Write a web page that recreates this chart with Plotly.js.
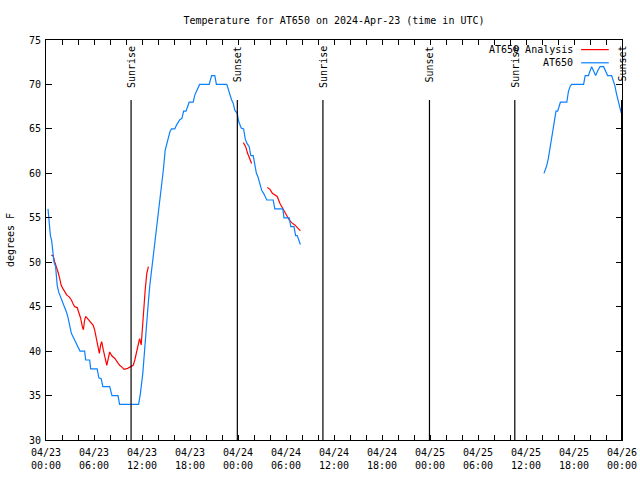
<!DOCTYPE html>
<html>
<head>
<meta charset="utf-8">
<script src="https://cdn.plot.ly/plotly-3.0.1.min.js"></script>
<style>
html,body{margin:0;padding:0;background:#fff;}
#chart{width:640px;height:480px;}
#chart svg .xtick, #chart svg .ytick, #chart svg .xlines-above, #chart svg .ylines-above{shape-rendering:crispEdges;}
</style>
</head>
<body>
<div id="chart"></div>
<script>
// Hours after 2024-04-23 00:00 UTC, and temperature (deg F)
const obsHours = [0.25,0.4,0.55,0.7,0.875,1.0,1.2,1.4,1.6,1.83,2.1,2.3,2.55,2.75,2.96,3.17,3.5,3.7,3.9,4.25,4.83,4.96,5.46,5.58,6.4,6.6,6.9,7.1,7.96,8.25,9.0,9.2,11.58,11.8,12.1,12.3,12.5,12.75,12.96,13.2,13.4,13.6,13.8,14.04,14.25,14.46,14.67,14.9,15.1,15.3,15.5,15.7,16.1,16.3,16.7,17.0,17.2,17.5,17.8,17.9,18.4,18.6,18.8,19.2,20.4,20.7,21.1,21.3,22.6,22.8,23.0,23.2,23.4,23.6,23.9,24.1,24.4,24.7,24.9,25.1,25.4,25.6,25.9,26.1,26.3,26.5,26.75,26.96,27.2,27.4,27.6,28.4,28.6,29.6,29.75,30.4,30.6,31.0,31.2,31.4,31.6,31.8,
  null,
  62.25,62.6,62.8,63.0,63.2,63.3,63.5,63.6,63.75,63.96,64.2,64.3,65.1,65.3,65.5,65.7,67.2,67.4,67.8,68.2,68.45,68.7,69.0,69.25,69.7,70.2,70.7,70.9,71.1,71.3,71.5,71.75,71.9];
const obsTemps = [56,54,53,52.5,51.3,50,49.5,47.4,46.6,46.1,45.3,45,44.4,43.8,42.7,42,41.4,41,40.8,40,40,39,39,38,38,37,36.9,36,36,35,35,34,34,35.25,37.5,40.1,42,45,47.25,49.1,50.25,52.5,53.6,55.5,57,58.5,60.4,62.6,63.4,64.1,64.7,65,65,65.4,66,66.2,67,67,67.7,68,68,68.8,69.2,70,70,71,71,70,70,69.4,69,68.25,67.9,67.1,66.75,65.8,65.1,65,63.9,63.4,63,62,62,61.1,60,59.6,58.9,58.1,57.75,57.4,57,57,56,56,55,55,54,54,53,53,52.5,52,
  null,
  60,60.9,61.7,62.8,63.75,64.3,65.25,66.2,67,67,67.7,68,68,69.2,69.75,70,70,71,71,72,71.5,71,71.6,72,72,71,71,70.5,69.9,69,68.25,67.1,66.8];

const anaHours = [0.67,0.9,1.08,1.3,1.5,1.7,1.9,2.1,2.33,2.6,2.9,3.17,3.4,3.58,3.9,4.1,4.33,4.54,4.67,4.83,4.96,5.25,5.58,5.9,6.08,6.3,6.5,6.67,6.83,6.96,7.17,7.33,7.6,7.96,8.25,8.58,8.9,9.2,9.5,9.75,10.2,10.5,10.9,11.1,11.3,11.5,11.7,11.8,11.9,12.04,12.2,12.4,12.6,12.8,
  null,
  24.67,24.96,25.2,25.4,25.6,25.7,
  null,
  27.67,28.0,28.3,28.6,28.9,29.25,29.6,29.9,30.2,30.4,30.7,31.1,31.5,31.8];
const anaTemps = [50.8,50.7,50.06,49.5,48.9,48.2,47.4,47.06,46.7,46.3,46.1,45.75,45.3,45,44.9,44.4,43.7,42.75,42.4,43.5,43.9,43.6,43.2,42.9,42.4,41.25,40.3,39.75,40.7,41.06,40.1,39.4,38.4,39.9,39.45,39.2,38.8,38.4,38.2,37.95,38.06,38.25,38.4,39,39.75,40.7,41.4,41.06,40.7,42.4,44.6,46.9,48.75,49.5,
  null,
  63.45,63,62.25,61.7,61.3,61.1,
  null,
  58.4,58.2,57.75,57.6,57.4,56.6,56.06,55.5,55.05,54.75,54.45,54.2,53.8,53.55];

const sunEvents = ['Sunrise','Sunset','Sunrise','Sunset','Sunrise','Sunset'];
const sunTimes = ['2024-04-23 10:38','2024-04-23 23:55','2024-04-24 10:37','2024-04-24 23:56','2024-04-25 10:36','2024-04-25 23:57'];

const titleText = 'Temperature for AT650 on 2024-Apr-23 (time in UTC)';
const obsName = 'AT650';
const anaName = 'AT650 Analysis';
const yTitle = 'degrees F';

const base = Date.UTC(2024, 3, 23);
function toDate(h) {
  if (h === null) return null;
  return new Date(base + h * 3600000).toISOString().replace('T', ' ').slice(0, 19);
}

const FONT = 'DejaVu Sans Mono';
const BLUE = '#0a80ff';
const RED = '#ff0000';

const traces = [
  {x: anaHours.map(toDate), y: anaTemps, type: 'scatter', mode: 'lines', name: anaName,
   line: {color: RED, width: 1.2}, connectgaps: false},
  {x: obsHours.map(toDate), y: obsTemps, type: 'scatter', mode: 'lines', name: obsName,
   line: {color: BLUE, width: 1.2}, connectgaps: false}
];

const shapes = [];
const annotations = [];
sunTimes.forEach((t, i) => {
  shapes.push({type: 'line', xref: 'x', yref: 'paper', x0: t, x1: t, y0: 0, y1: 0.85,
    line: {color: '#000', width: 1.2}});
  annotations.push({xref: 'x', yref: 'paper', x: t, y: 0.99, text: sunEvents[i],
    textangle: -90, showarrow: false, xanchor: 'center', yanchor: 'top',
    font: {family: FONT, size: 10, color: '#000'}});
});

// gnuplot-style key (text right, sample line after)
const keyItems = [{name: anaName, color: RED, y: 0.976}, {name: obsName, color: BLUE, y: 0.943}];
keyItems.forEach(k => {
  annotations.push({xref: 'paper', yref: 'paper', x: 0.918, y: k.y, text: k.name,
    showarrow: false, xanchor: 'right', yanchor: 'middle',
    font: {family: FONT, size: 10, color: '#000'}});
  shapes.push({type: 'line', xref: 'paper', yref: 'paper', x0: 0.929, x1: 0.977, y0: k.y, y1: k.y,
    line: {color: k.color, width: 1.2}});
});

const layout = {
  width: 640, height: 480,
  margin: {l: 46, r: 18, t: 40, b: 40},
  paper_bgcolor: '#fff', plot_bgcolor: '#fff',
  font: {family: FONT, size: 10, color: '#000'},
  showlegend: false,
  title: {text: titleText, x: 0.5, xref: 'paper', xanchor: 'center', y: 0.958, yref: 'container', yanchor: 'middle',
    font: {family: FONT, size: 10, color: '#000'}},
  xaxis: {
    type: 'date',
    range: ['2024-04-23 00:00', '2024-04-26 00:00'],
    tick0: '2024-04-23 00:00', dtick: 6 * 3600000,
    tickformat: '%m/%d<br>%H:%M',
    ticks: 'inside', ticklen: 5, tickcolor: '#000', tickwidth: 1,
    ticklabelstandoff: 3,
    minor: {dtick: 2 * 3600000, ticks: 'inside', ticklen: 5, tickcolor: '#000', tickwidth: 1, showgrid: false},
    showline: true, linecolor: '#000', linewidth: 1, mirror: 'allticks',
    showgrid: false, zeroline: false,
    tickfont: {family: FONT, size: 10, color: '#000'}
  },
  yaxis: {
    range: [30, 75], dtick: 5, tick0: 30,
    ticks: 'inside', ticklen: 6, tickcolor: '#000', tickwidth: 1,
    ticklabelstandoff: 2,
    showline: true, linecolor: '#000', linewidth: 1, mirror: 'allticks',
    showgrid: false, zeroline: false,
    tickfont: {family: FONT, size: 10, color: '#000'},
    title: {text: yTitle, standoff: 12, font: {family: FONT, size: 10, color: '#000'}}
  },
  shapes: shapes,
  annotations: annotations
};

Plotly.newPlot('chart', traces, layout, {displayModeBar: false, staticPlot: true});
</script>
</body>
</html>
